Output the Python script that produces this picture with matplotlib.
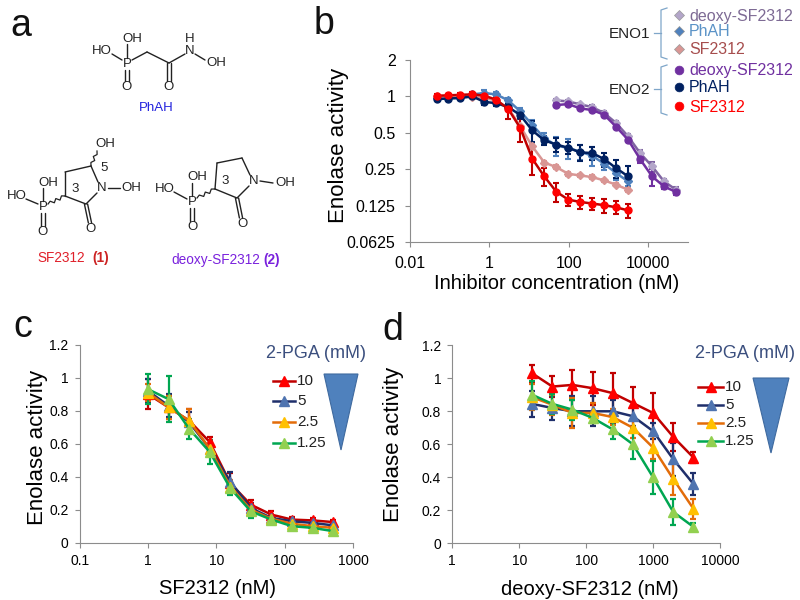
import matplotlib
matplotlib.use('Agg')
import numpy as np
import matplotlib.pyplot as plt

plt.rcParams['font.family'] = ['Liberation Sans', 'DejaVu Sans']
GREY = '#8c8c8c'

# panel b, x in nM
conc_b = [0.048, 0.095, 0.19, 0.38, 0.76, 1.5, 3.05, 6.1, 12.2, 24.4, 48.8, 97.7, 195, 391, 781, 1563, 3125]
conc_deoxy = [48.8, 97.7, 195, 391, 781, 1563, 3125, 6250, 12500, 25000, 50000]

eno1_phah = [.97, .987, .987, 1.04, 1.065, 1.04, .926, .751, .583, .452, .393, .374, .349, .323, .277, .232, .198]
eno1_phah_err = [.03, .03, .03, .05, .06, .05, .05, .05, .06, .05, .07, .07, .05, .055, .03, .03, .015]
eno1_sf = [1.0, .987, 1.0, .994, .97, .926, .80, .565, .386, .284, .26, .229, .222, .215, .202, .186, .169]
eno1_sf_err = [.02, .02, .02, .02, .02, .02, .03, .02, .02, .01, .01, .008, .008, .008, .006, .006, .006]
eno1_deoxy = [.926, .909, .859, .816, .728, .602, .467, .34, .264, .198, .169]
eno1_deoxy_err = [.03, .03, .03, .03, .03, .02, .02, .02, .025, .01, .008]

eno2_phah = [.95, .96, .97, 1.0, .90, .88, .816, .70, .523, .433, .40, .376, .344, .34, .303, .255, .218]
eno2_phah_err = [.04, .03, .03, .03, .05, .05, .05, .05, .10, .04, .05, .04, .05, .04, .04, .045, .05]
eno2_sf = [1.013, 1.02, 1.03, 1.04, 1.013, .94, .785, .547, .305, .218, .163, .14, .134, .13, .126, .121, .114]
eno2_sf_err = [.03, .03, .03, .04, .03, .03, .13, .13, .08, .036, .028, .017, .017, .015, .017, .015, .016]
eno2_deoxy = [.848, .864, .796, .771, .705, .561, .438, .303, .218, .18, .162]
eno2_deoxy_err = [.03, .03, .03, .03, .03, .02, .02, .02, .035, .01, .008]

yticks_b = [0.0625, 0.125, 0.25, 0.5, 1, 2]
ylabels_b = ['0.0625', '0.125', '0.25', '0.5', '1', '2']

# panel c
pga = ['10', '5', '2.5', '1.25']
conc_c = [1, 2, 4, 8, 16, 32, 64, 128, 256, 512]
c_vals = [[.90, .82, .74, .61, .36, .23, .17, .14, .135, .125],
          [.92, .83, .73, .57, .37, .21, .15, .13, .12, .105],
          [.91, .82, .74, .57, .34, .20, .145, .115, .10, .09],
          [.93, .87, .69, .55, .33, .19, .14, .10, .09, .07]]
c_errs = [[.09, .07, .07, .03, .06, .03, .02, .015, .015, .015],
          [.07, .07, .06, .03, .06, .03, .02, .015, .015, .015],
          [.05, .07, .07, .03, .04, .03, .02, .015, .015, .015],
          [.09, .14, .06, .07, .04, .04, .02, .02, .02, .02]]

# panel d
conc_d = [15.625, 31.25, 62.5, 125, 250, 500, 1000, 2000, 4000]
d_vals = [[1.03, .95, .96, .94, .91, .85, .79, .645, .52],
          [.845, .82, .80, .80, .80, .77, .68, .51, .36],
          [.885, .84, .79, .79, .765, .70, .58, .39, .21],
          [.90, .845, .81, .76, .69, .60, .40, .19, .10]]
d_errs = [[.05, .065, .09, .10, .12, .10, .12, .085, .035],
          [.08, .07, .09, .09, .07, .06, .05, .10, .065],
          [.08, .06, .09, .06, .05, .06, .07, .10, .06],
          [.085, .06, .06, .03, .06, .09, .10, .08, .025]]

line_cols = ['#c00000', '#1f2f6b', '#e36c09', '#00a651']
face_cols = ['#ff0000', '#4f74b0', '#ffc000', '#92d050']


def px_axes(fig, left, right, top, bottom):
    return fig.add_axes([left / 800, 1 - bottom / 600, (right - left) / 800, (bottom - top) / 600])


def clean(ax):
    for s in ['top', 'right']:
        ax.spines[s].set_visible(False)
    for s in ['left', 'bottom']:
        ax.spines[s].set_color(GREY)
    ax.tick_params(which='major', length=3.5, color=GREY, width=0.8)
    ax.tick_params(which='minor', length=0)
    ax.patch.set_alpha(0)


def dilution_panel(ax, x, vals, errs, xlim, xticks, xticklabels, xlabel, ypad, ypos, xpos):
    for v, e, lc, fc in zip(vals, errs, line_cols, face_cols):
        ax.errorbar(x, v, yerr=e, color=lc, lw=1.8, elinewidth=1.6, capsize=2, capthick=1.6,
                    marker='^', ms=7, mfc=fc, mec=fc)
    ax.set_xscale('log')
    ax.set_xlim(xlim)
    ax.set_ylim(0, 1.2)
    ax.set_xticks(xticks)
    ax.set_xticklabels(xticklabels)
    ax.set_yticks([0, .2, .4, .6, .8, 1, 1.2])
    ax.set_yticklabels(['0', '0.2', '0.4', '0.6', '0.8', '1', '1.2'])
    ax.tick_params(labelsize=10, pad=4.5)
    ax.set_xlabel(xlabel, fontsize=14.5, labelpad=8, x=xpos)
    ax.set_ylabel('Enolase activity', fontsize=16, labelpad=ypad, y=ypos)
    clean(ax)


fig = plt.figure(figsize=(8, 6), dpi=100)

# overlay in pixel coordinates for the drawings and hand placed legends
ov = fig.add_axes([0, 0, 1, 1])
ov.set_xlim(0, 800)
ov.set_ylim(600, 0)
ov.axis('off')


def bond(p, q, lw=1.0):
    ov.plot([p[0], q[0]], [p[1], q[1]], color='#222222', lw=lw, solid_capstyle='round')


def double(p, q, off=1.6):
    bond((p[0] - off, p[1]), (q[0] - off, q[1]))
    bond((p[0] + off, p[1]), (q[0] + off, q[1]))


def wavy(p, q, n=6, amp=1.6):
    p, q = np.array(p, float), np.array(q, float)
    d = q - p
    nrm = np.array([-d[1], d[0]]) / np.hypot(*d)
    pts = [p + d * i / n + nrm * amp * (-1) ** i * (0 < i < n) for i in range(n + 1)]
    pts = np.array(pts)
    ov.plot(pts[:, 0], pts[:, 1], color='#222222', lw=0.9)


def atom(x, y, s, size=9.5, **kw):
    ov.text(x, y, s, fontsize=size, ha='center', va='center', color='#222222', **kw)


# PhAH
for s, x, y in [('OH', 132, 39), ('HO', 102, 51), ('P', 127, 64), ('O', 127, 87), ('O', 169, 87),
                ('N', 190, 51), ('H', 190, 39), ('OH', 216, 63)]:
    atom(x, y, s)
bond((127, 58), (127, 44))
bond((112, 54), (122, 60))
double((127, 70), (127, 81))
bond((132, 60), (147, 52))
bond((147, 52), (169, 63))
double((169, 63), (169, 81))
bond((169, 63), (185, 54))
bond((195, 54), (205, 60))
ov.text(156, 108, 'PhAH', color='#2222dd', fontsize=9.5, ha='center', va='center')

# SF2312
for s, x, y in [('HO', 17, 196), ('OH', 48, 183), ('P', 43, 207), ('O', 43, 232), ('N', 102, 188),
                ('O', 91, 229), ('OH', 131, 188), ('OH', 105, 144), ('3', 75, 189), ('5', 104, 168)]:
    atom(x, y, s)
bond((26, 199), (38, 204))
bond((43, 201), (43, 188))
double((43, 213), (43, 226))
wavy((48, 204), (65, 196))
bond((65, 196), (65, 172))
bond((65, 172), (91, 166))
bond((91, 166), (98, 182))
bond((97, 193), (86, 204))
bond((86, 204), (65, 196))
double((86, 204), (90, 223))
bond((108, 188), (120, 188))
wavy((91, 166), (97, 151), n=5, amp=1.4)
ov.text(37, 258, 'SF2312', color='#e0202a', fontsize=9.8, ha='left', va='center')
ov.text(92, 258, '(1)', color='#cc2222', fontsize=9.8, ha='left', va='center', fontweight='bold')

# deoxy-SF2312
for s, x, y in [('HO', 165, 189), ('OH', 197, 177), ('P', 192, 202), ('O', 192, 227), ('N', 254, 181),
                ('O', 243, 224), ('OH', 285, 183), ('3', 225, 181)]:
    atom(x, y, s)
bond((174, 192), (187, 199))
bond((192, 196), (192, 183))
double((192, 208), (192, 221))
wavy((197, 198), (215, 189))
bond((215, 189), (217, 163))
bond((217, 163), (242, 158))
bond((242, 158), (250, 175))
bond((249, 186), (237, 198))
bond((237, 198), (215, 189))
double((237, 198), (241, 218))
bond((260, 181), (273, 183))
ov.text(171, 260, 'deoxy-SF2312', color='#7a22dd', fontsize=9.8, ha='left', va='center')
ov.text(263, 260, '(2)', color='#7a22dd', fontsize=9.8, ha='left', va='center', fontweight='bold')

# panel letters
for s, x, y in [('a', 21, 26), ('b', 324, 24), ('c', 23, 327), ('d', 393, 330)]:
    ov.text(x, y, s, fontsize=27, ha='center', va='center', color='#111111')

# panel b legend
brk = '#7fa6c9'
for top, mid, bot in [(8, 33, 59), (65, 89, 115)]:
    ov.plot([667, 661, 661, 667], [top, top + 2, bot - 2, bot], color=brk, lw=0.9)
    ov.plot([654, 661], [mid, mid], color=brk, lw=0.9)
ov.text(629, 34, 'ENO1', fontsize=11, ha='center', va='center', color='#222222')
ov.text(629, 90, 'ENO2', fontsize=11, ha='center', va='center', color='#222222')
legend_b = [('deoxy-SF2312', 16, 'D', '#b3a6c9', '#7d6a94'),
            ('PhAH', 32, 'D', '#4f81bd', '#5b93c7'),
            ('SF2312', 50, 'D', '#d99694', '#a64d4d'),
            ('deoxy-SF2312', 71, 'o', '#7030a0', '#7030a0'),
            ('PhAH', 88, 'o', '#002060', '#002060'),
            ('SF2312', 107, 'o', '#ff0000', '#ff0000')]
for name, y, mk, fc, tc in legend_b:
    ov.plot([679], [y - 1], marker=mk, ms=6.3 if mk == 'o' else 5, color=fc, mec='#999999' if mk == 'D' else fc, mew=0.5)
    ov.text(689, y, name, color=tc, fontsize=11.5, ha='left', va='center')

# panels c and d legends
ov.text(316, 354, '2-PGA (mM)', color='#3b4f7e', fontsize=13, ha='center', va='center')
ov.text(745, 354, '2-PGA (mM)', color='#3b4f7e', fontsize=13, ha='center', va='center')
ov.fill([324, 358, 341], [374, 374, 450], color='#4f81bd', ec='#3f6a9f', lw=0.8)
ov.fill([753, 789, 771], [378, 378, 453], color='#4f81bd', ec='#3f6a9f', lw=0.8)
for x0, x1, ys in [(273, 295, [381, 401, 422, 443]), (698, 723, [387, 405, 423, 441])]:
    for name, y, lc, fc in zip(pga, ys, line_cols, face_cols):
        ov.plot([x0, x1], [y, y], color=lc, lw=1.8)
        ov.plot([(x0 + x1) / 2], [y], marker='^', ms=7, color=fc)
        ov.text(x1 + 2, y, name, fontsize=11, ha='left', va='center', color='#222222')

# panel b
ax_b = px_axes(fig, 409.5, 688, 60, 242)
series_b = [(conc_deoxy, eno1_deoxy, eno1_deoxy_err, '#8064a2', '#b3a6c9', 'D', 4.2),
            (conc_b, eno1_phah, eno1_phah_err, '#4f81bd', '#4f81bd', 'D', 4.2),
            (conc_b, eno1_sf, eno1_sf_err, '#d99694', '#d99694', 'D', 4.2),
            (conc_deoxy, eno2_deoxy, eno2_deoxy_err, '#7030a0', '#7030a0', 'o', 5),
            (conc_b, eno2_phah, eno2_phah_err, '#002060', '#002060', 'o', 5),
            (conc_b, eno2_sf, eno2_sf_err, '#c00000', '#ff0000', 'o', 5)]
for x, v, e, lc, fc, mk, ms in series_b:
    ax_b.errorbar(x, v, yerr=e, color=lc, lw=1.8, elinewidth=1.5, capsize=2, capthick=1.5,
                  marker=mk, ms=ms, mfc=fc, mec=fc)
ax_b.set_xscale('log')
ax_b.set_yscale('log', base=2)
ax_b.set_xlim(0.01, 100000)
ax_b.set_ylim(0.0625, 2)
ax_b.set_xticks([0.01, 1, 100, 10000])
ax_b.set_xticklabels(['0.01', '1', '100', '10000'])
ax_b.set_yticks(yticks_b)
ax_b.set_yticklabels(ylabels_b)
ax_b.minorticks_off()
ax_b.tick_params(labelsize=11.5, pad=6.5)
ax_b.set_xlabel('Inhibitor concentration (nM)', fontsize=14.5, labelpad=2.5, x=0.53)
ax_b.set_ylabel('Enolase activity', fontsize=16, labelpad=-1.5, y=0.53)
clean(ax_b)

# panel c
ax_c = px_axes(fig, 79.7, 353, 344.7, 542.7)
dilution_panel(ax_c, conc_c, c_vals, c_errs, (0.1, 1000), [0.1, 1, 10, 100, 1000],
               ['0.1', '1', '10', '100', '1000'], 'SF2312 (nM)', 1, 0.48, 0.505)

# panel d
ax_d = px_axes(fig, 452.3, 720, 345.3, 543.3)
dilution_panel(ax_d, conc_d, d_vals, d_errs, (1, 10000), [1, 10, 100, 1000, 10000],
               ['1', '10', '100', '1000', '10000'], 'deoxy-SF2312 (nM)', 13, 0.5, 0.515)

fig.savefig('out.png', dpi=100)
